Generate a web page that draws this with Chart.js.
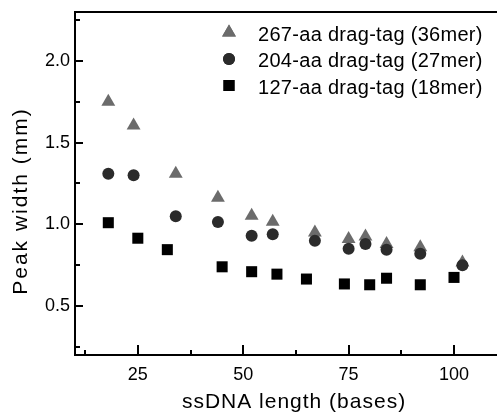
<!DOCTYPE html>
<html>
<head>
<meta charset="utf-8">
<script src="https://cdn.jsdelivr.net/npm/chart.js@4/dist/chart.umd.min.js"></script>
<style>
  html, body { margin: 0; padding: 0; background: #fff; }
  canvas { display: block; }
</style>
</head>
<body>
<canvas id="grafico" width="497" height="415"></canvas>
<script>
// valori
var serie = ["267-aa drag-tag (36mer)", "204-aa drag-tag (27mer)", "127-aa drag-tag (18mer)"];

var x267 = [18, 24, 34, 44, 52, 57, 67, 75, 79, 84, 92, 102];
var y267 = [1.75, 1.605, 1.31, 1.163, 1.053, 1.016, 0.95, 0.91, 0.925, 0.88, 0.86, 0.767];

var x204 = [18, 24, 34, 44, 52, 57, 67, 75, 79, 84, 92, 102];
var y204 = [1.31, 1.30, 1.05, 1.015, 0.93, 0.94, 0.90, 0.85, 0.88, 0.845, 0.82, 0.75];

var x127 = [18, 25, 32, 45, 52, 58, 65, 74, 80, 84, 92, 100];
var y127 = [1.01, 0.915, 0.845, 0.74, 0.71, 0.695, 0.665, 0.635, 0.63, 0.67, 0.63, 0.675];

var xTicks = [25, 50, 75, 100];
var xMinor = [12.5, 37.5, 62.5, 87.5];
var yTicks = [0.5, 1.0, 1.5, 2.0];
var yMinor = [0.25, 0.75, 1.25, 1.75, 2.25];

var titoloX = 'ssDNA length (bases)';
var titoloY = 'Peak width (mm)';

var FONT = "Arial, 'Liberation Sans', sans-serif";

function punti(xs, ys){
  return xs.map(function(x, i){ return {x: x, y: ys[i]}; });
}

var stili = [
  {colore: '#6b6b6b', forma: 'triangle', r: 8},
  {colore: '#2b2b2b', forma: 'circle', r: 6},
  {colore: '#000000', forma: 'rect', r: 7.8}
];

// tacche verso l'interno, titoli, legenda e cornice
var decorazioni = {
  id: 'decorazioni',
  afterDraw: function(chart){
    var ctx = chart.ctx, a = chart.chartArea;
    var sx = chart.scales.x, sy = chart.scales.y;
    ctx.save();

    ctx.strokeStyle = '#000';
    ctx.lineWidth = 2;
    ctx.beginPath();
    xTicks.forEach(function(v){
      var p = Math.round(sx.getPixelForValue(v));
      ctx.moveTo(p, a.bottom); ctx.lineTo(p, a.bottom - 10);
    });
    xMinor.forEach(function(v){
      var p = Math.round(sx.getPixelForValue(v));
      ctx.moveTo(p, a.bottom); ctx.lineTo(p, a.bottom - 5);
    });
    yTicks.forEach(function(v){
      var p = Math.round(sy.getPixelForValue(v));
      ctx.moveTo(a.left, p); ctx.lineTo(a.left + 8, p);
    });
    yMinor.forEach(function(v){
      var p = Math.round(sy.getPixelForValue(v));
      ctx.moveTo(a.left, p); ctx.lineTo(a.left + 5, p);
    });
    ctx.stroke();

    // titoli degli assi
    ctx.fillStyle = '#000';
    ctx.font = '21px ' + FONT;
    ctx.textBaseline = 'alphabetic';
    ctx.textAlign = 'center';
    ctx.letterSpacing = '1px';
    ctx.fillText(titoloX, a.left + 219, 408);
    ctx.save();
    ctx.translate(27, a.top + 189);
    ctx.rotate(-Math.PI / 2);
    ctx.letterSpacing = '2px';
    ctx.fillText(titoloY, 0, 0);
    ctx.restore();

    // legenda
    ctx.font = '20px ' + FONT;
    ctx.textAlign = 'left';
    ctx.letterSpacing = '0.3px';
    serie.forEach(function(nome, i){
      var yy = a.top + 20.5 + i * 26.5;
      var st = stili[i];
      ctx.fillStyle = st.colore;
      Chart.helpers.drawPoint(ctx, {pointStyle: st.forma, radius: st.r, rotation: 0, borderWidth: 0}, a.left + 154, yy);
      ctx.fill();
      ctx.fillStyle = '#000';
      ctx.fillText(nome, a.left + 183, yy + 8);
    });

    // cornice: linea in alto e asse x fino al bordo destro
    ctx.fillStyle = '#000';
    ctx.fillRect(a.left - 1, a.top - 1, chart.width - a.left + 1, 2);
    ctx.fillRect(a.right - 2, a.bottom - 1, chart.width - a.right + 2, 2);
    ctx.restore();
  }
};

var datasets = [
  {label: serie[0], data: punti(x267, y267), order: 2},
  {label: serie[1], data: punti(x204, y204), order: 1},
  {label: serie[2], data: punti(x127, y127), order: 0}
].map(function(d, i){
  d.pointStyle = stili[i].forma;
  d.pointRadius = stili[i].r;
  d.pointHoverRadius = stili[i].r;
  d.backgroundColor = stili[i].colore;
  d.borderColor = stili[i].colore;
  d.pointBorderWidth = 0;
  d.showLine = false;
  return d;
});

new Chart(document.getElementById('grafico').getContext('2d'), {
  type: 'scatter',
  data: {datasets: datasets},
  plugins: [decorazioni],
  options: {
    responsive: false,
    animation: false,
    devicePixelRatio: 1,
    layout: {padding: {top: 12, left: 0, right: 0, bottom: 0}},
    plugins: {legend: {display: false}, tooltip: {enabled: false}},
    scales: {
      x: {
        type: 'linear', min: 10.1, max: 108.3,
        afterBuildTicks: function(s){ s.ticks = xTicks.map(function(v){ return {value: v}; }); },
        afterFit: function(s){ s.height = 60; s.paddingLeft = 0; s.paddingRight = 0; },
        grid: {display: false, drawTicks: false},
        border: {display: true, color: '#000', width: 2},
        ticks: {color: '#000', padding: 9, maxRotation: 0, font: {family: FONT, size: 18},
                callback: function(v){ return String(v); }}
      },
      y: {
        type: 'linear', min: 0.2, max: 2.3,
        afterBuildTicks: function(s){ s.ticks = yTicks.map(function(v){ return {value: v}; }); },
        afterFit: function(s){ s.width = 75; s.paddingTop = 0; s.paddingBottom = 0; },
        grid: {display: false, drawTicks: false},
        border: {display: true, color: '#000', width: 2},
        ticks: {color: '#000', padding: 5, font: {family: FONT, size: 18},
                callback: function(v){ return v.toFixed(1); }}
      }
    }
  }
});
</script>
</body>
</html>
